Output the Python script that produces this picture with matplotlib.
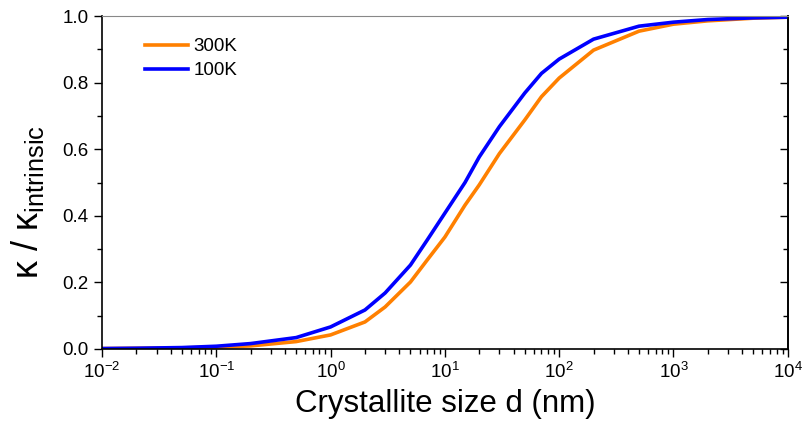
import matplotlib.pyplot as plt
from matplotlib.ticker import LogLocator, MultipleLocator, NullFormatter

plt.rcParams['font.family'] = ['Liberation Sans', 'DejaVu Sans']
plt.rcParams['mathtext.fontset'] = 'custom'
plt.rcParams['mathtext.rm'] = 'Liberation Sans'
plt.rcParams['mathtext.it'] = 'Liberation Sans'

# crystallite size (nm) and normalised conductivity
d_nm = [0.01, 0.02, 0.05, 0.1, 0.2, 0.5, 1, 2, 3, 5, 7, 10, 15, 20, 30, 50,
        70, 100, 200, 500, 1000, 2000, 5000, 10000]
k_300K = [0.001, 0.002, 0.003, 0.005, 0.009, 0.022, 0.042, 0.081, 0.126, 0.201,
          0.267, 0.336, 0.432, 0.493, 0.587, 0.688, 0.758, 0.814, 0.898, 0.955,
          0.976, 0.986, 0.994, 0.997]
k_100K = [0.001, 0.002, 0.004, 0.008, 0.016, 0.034, 0.066, 0.117, 0.168, 0.252,
          0.327, 0.408, 0.500, 0.577, 0.668, 0.769, 0.828, 0.871, 0.931, 0.970,
          0.982, 0.990, 0.995, 0.997]

fig = plt.figure(figsize=(8.03, 4.26), dpi=100)
ax = fig.add_axes([0.127, 0.181, 0.854, 0.781])

ax.plot(d_nm, k_300K, color='#FF8000', lw=2.6, label='300K')
ax.plot(d_nm, k_100K, color='#0000FF', lw=2.6, label='100K')

ax.set_xscale('log')
ax.set_xlim(1e-2, 1e4)
ax.set_ylim(0, 1.0)
ax.xaxis.set_major_locator(LogLocator(base=10, numticks=10))
ax.xaxis.set_minor_locator(LogLocator(base=10, subs=range(2, 10), numticks=100))
ax.yaxis.set_major_locator(MultipleLocator(0.2))
ax.yaxis.set_minor_locator(MultipleLocator(0.1))
ax.yaxis.set_major_formatter(plt.FormatStrFormatter('%.1f'))

ax.tick_params(axis='both', which='major', labelsize=13.5, length=6, width=1,
               direction='out')
ax.tick_params(axis='both', which='minor', length=3.5, width=1, direction='out')

# right side: inward ticks, no labels
rax = ax.secondary_yaxis('right')
rax.yaxis.set_major_locator(MultipleLocator(0.2))
rax.yaxis.set_minor_locator(MultipleLocator(0.1))
rax.yaxis.set_major_formatter(NullFormatter())
rax.tick_params(which='major', direction='in', length=6, width=1)
rax.tick_params(which='minor', direction='in', length=3.5, width=1)
rax.spines['right'].set_linewidth(1.2)

ax.spines['top'].set_color('#888888')
for s in ['left', 'right', 'bottom']:
    ax.spines[s].set_linewidth(1.2)

ax.set_xlabel('Crystallite size d (nm)', fontsize=22.5, labelpad=5)
ax.set_ylabel(r'κ / κ$_{\mathrm{intrinsic}}$', fontsize=26)
ax.yaxis.set_label_coords(-0.082, 0.44)

ax.legend(loc='upper left', frameon=False, fontsize=13.5, handlelength=2.3,
          handletextpad=0.3, labelspacing=0.35, borderaxespad=0.6,
          bbox_to_anchor=(0.035, 0.99))

fig.savefig('out.png', dpi=100)
